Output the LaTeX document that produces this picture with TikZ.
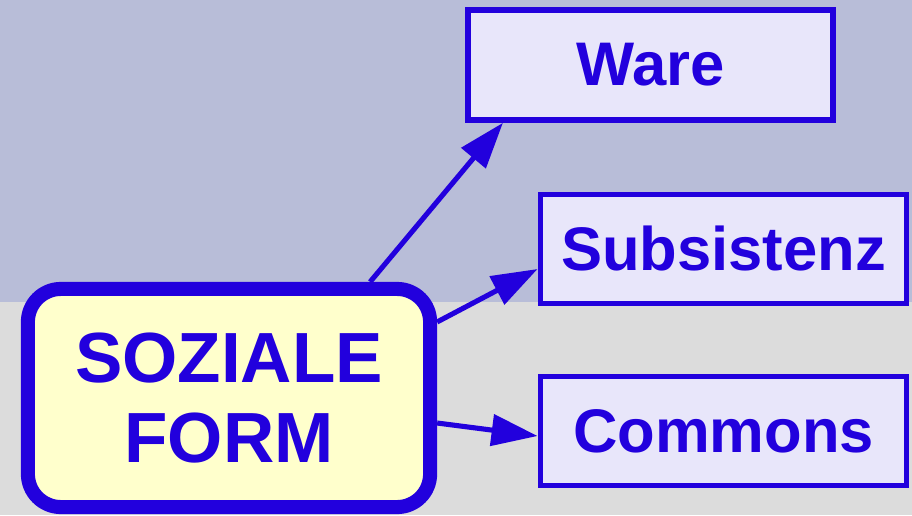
\documentclass[tikz,border=0pt]{standalone}
\usepackage{fontspec}
\setmainfont{Liberation Sans}
\usetikzlibrary{arrows.meta}

\definecolor{formblue}{RGB}{34,0,221}
\definecolor{boxlilac}{RGB}{232,230,250}
\definecolor{formyellow}{RGB}{255,255,204}
\definecolor{bgtop}{RGB}{184,189,216}
\definecolor{bgbottom}{RGB}{220,220,220}

\begin{document}
\begin{tikzpicture}[x=0.01cm, y=-0.01cm,
  formbox/.style={draw=formblue, line width=1.6pt, fill=boxlilac, text=formblue,
    font=\fontsize{17.5}{21}\selectfont\bfseries, inner sep=0pt,
    minimum width=3.66cm, minimum height=1.09cm},
  sozbox/.style={draw=formblue, line width=4pt, fill=formyellow, text=formblue,
    rounded corners=0.33cm, align=center, inner sep=0pt,
    font=\fontsize{20.2}{22.8}\selectfont\bfseries,
    minimum width=4.02cm, minimum height=2.18cm},
  formarrow/.style={draw=formblue, line width=1.45pt,
    -{Triangle[length=0.46cm, width=0.31cm]}}]

% two-tone background
\fill[bgtop] (0,0) rectangle (912,302);
\fill[bgbottom] (0,302) rectangle (912,515);
\useasboundingbox (0,0) rectangle (912,515);

% boxes
\node[sozbox] (soz) at (229,398) {SOZIALE\\FORM};
\node[formbox, minimum width=3.65cm, minimum height=1.1cm] (ware) at (650.5,65) {Ware};
\node[formbox] (subs) at (723.5,249) {Subsistenz};
\node[formbox] (comm) at (723.5,431) {Commons};

% arrows
\draw[formarrow] ([xshift=1.41cm]soz.north) -- ([xshift=-1.475cm]ware.south);
\draw[formarrow] ([yshift=0.76cm]soz.east) -- ([yshift=-0.2cm]subs.west);
\draw[formarrow] ([yshift=-0.25cm]soz.east) -- ([yshift=-0.05cm]comm.west);
\end{tikzpicture}
\end{document}
